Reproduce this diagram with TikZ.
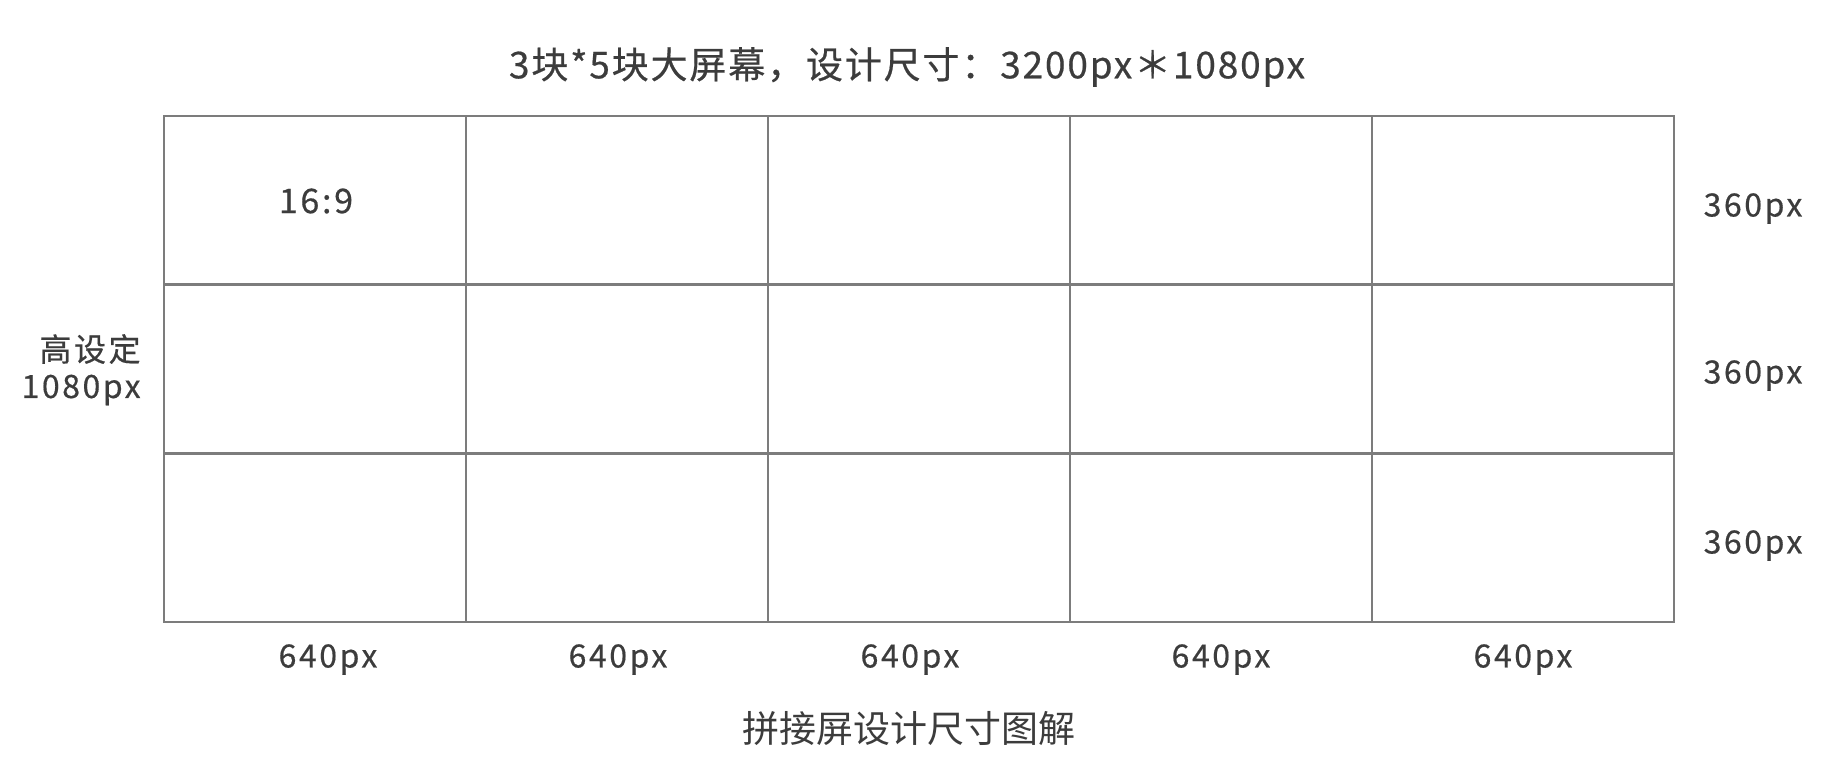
\documentclass[tikz,border=0pt]{standalone}
\usepackage{fontspec}
\setmainfont{Noto Sans CJK SC}
\newfontfamily\lblfont[LetterSpace=8, FakeBold=0.5]{Noto Sans CJK SC}
\newfontfamily\ttlfont[LetterSpace=5, FakeBold=0.5]{Noto Sans CJK SC}
\definecolor{lcol}{HTML}{7C7C7C}
\definecolor{tcol}{HTML}{3C3C3C}

\begin{document}
\begin{tikzpicture}[x=0.5pt, y=-0.5pt,
  gridline/.style={lcol, line width=1.3pt},
  lbl/.style={tcol, inner sep=0pt, font=\lblfont\fontsize{16}{19}\selectfont},
  ttl/.style={tcol, inner sep=0pt, font=\ttlfont\fontsize{18.5}{22}\selectfont},
  captext/.style={tcol, inner sep=0pt, font=\fontsize{18.5}{22}\selectfont}]
\useasboundingbox (0,0) rectangle (1836,776);
% screen grid, 3 rows by 5 columns
\draw[gridline] (164,116) rectangle (1674,622);
\draw[gridline] (466,116) -- (466,622);
\draw[gridline] (768,116) -- (768,622);
\draw[gridline] (1070,116) -- (1070,622);
\draw[gridline] (1372,116) -- (1372,622);
\draw[gridline] (164,284.7) -- (1674,284.7);
\draw[gridline] (164,453.3) -- (1674,453.3);
% labels
\node[ttl] (title) at (907,67) {3块*5块大屏幕，设计尺寸：3200px＊1080px};
\node[lbl, font=\lblfont\fontsize{17}{20}\selectfont] (ratio) at (316,201) {16:9};
\node[lbl, anchor=east] (hname) at (141,349) {高设定};
\node[lbl, anchor=east] (hval) at (141,390) {1080px};
\node[lbl] (row1) at (1753,208.5) {360px};
\node[lbl] (row2) at (1753,375.5) {360px};
\node[lbl] (row3) at (1753,545.5) {360px};
\node[lbl] (col1) at (328,659.5) {640px};
\node[lbl] (col2) at (618,659.5) {640px};
\node[lbl] (col3) at (910,659.5) {640px};
\node[lbl] (col4) at (1221,659.5) {640px};
\node[lbl] (col5) at (1523,659.5) {640px};
\node[captext] (caption) at (909,728) {拼接屏设计尺寸图解};
\end{tikzpicture}
\end{document}
